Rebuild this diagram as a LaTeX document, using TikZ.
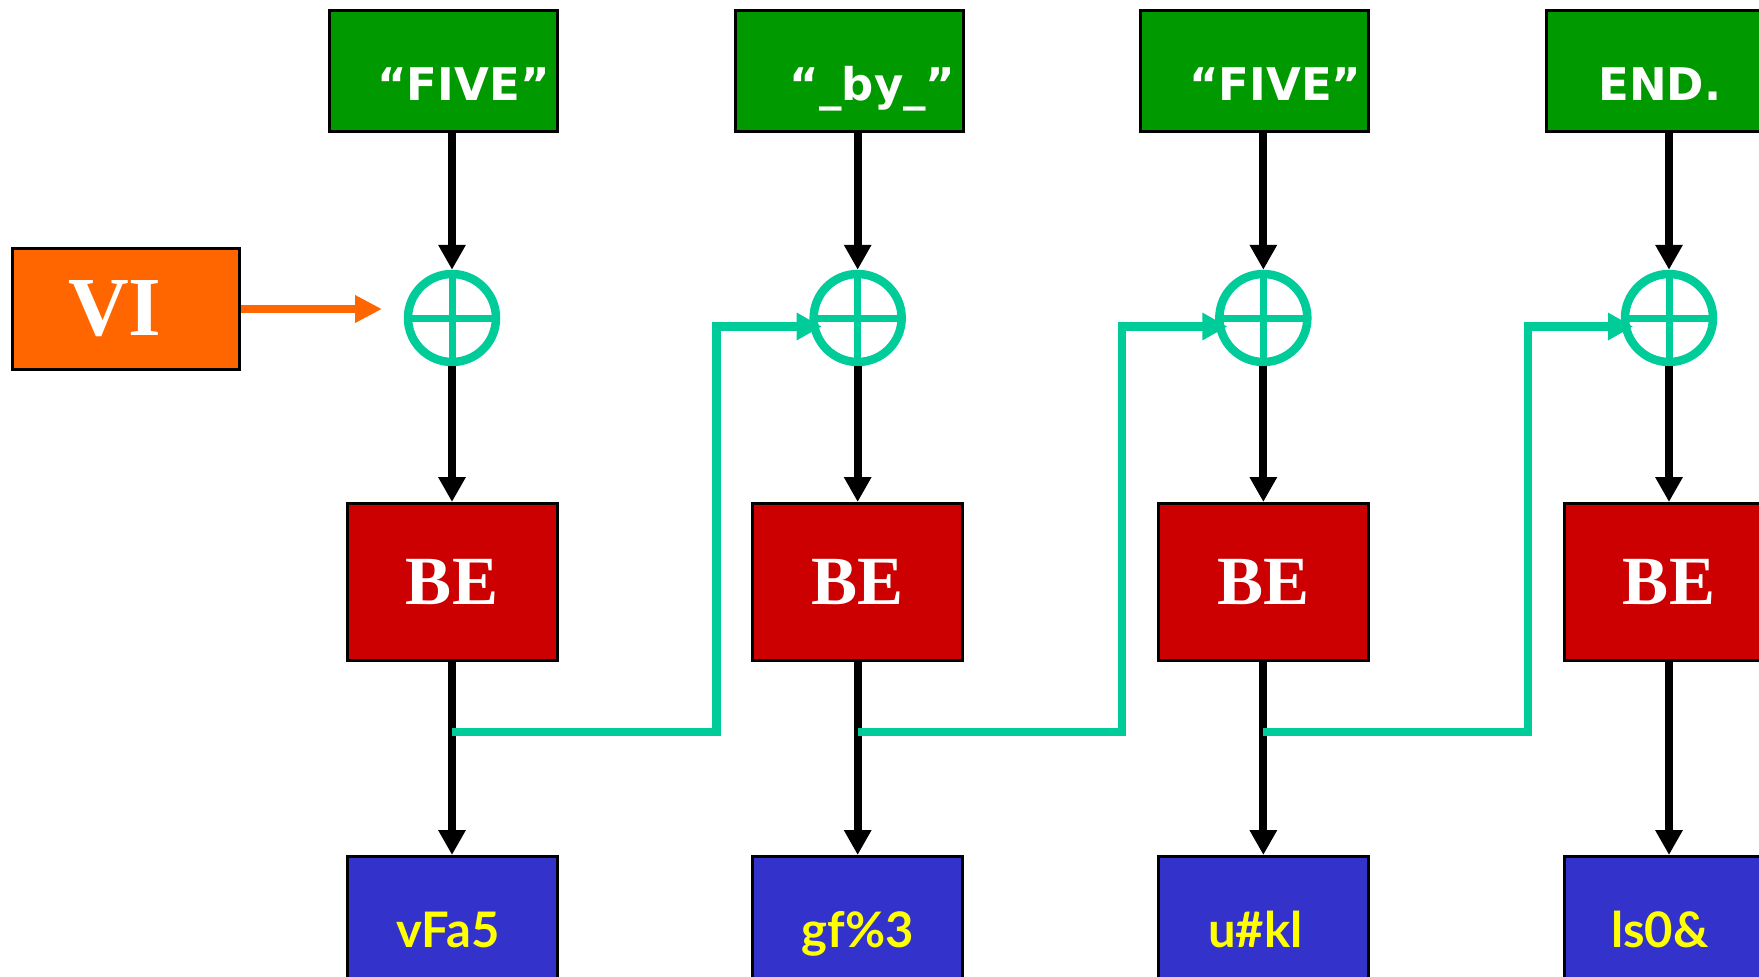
\documentclass[tikz,border=0pt]{standalone}
\usepackage{fontspec}
\usetikzlibrary{arrows.meta,calc}

\newfontfamily\keyfont{DejaVu Sans}
\newfontfamily\romanfont{Liberation Serif}
\newfontfamily\cipherfont{Lato}

\definecolor{keygreen}{HTML}{009900}
\definecolor{ivorange}{HTML}{FF6600}
\definecolor{bered}{HTML}{CC0000}
\definecolor{outblue}{HTML}{3333CC}
\definecolor{xorteal}{HTML}{00CC99}
\definecolor{cipheryellow}{HTML}{FFFF00}

\begin{document}
\begin{tikzpicture}[x=1pt,y=-1pt,
  boxframe/.style={draw=black, line width=3pt, inner sep=0pt},
  inbox/.style={boxframe, fill=keygreen, minimum width=228pt, minimum height=121pt},
  intext/.style={inner sep=0pt, text=white, font=\keyfont\bfseries\fontsize{45}{54}\selectfont},
  ivbox/.style={boxframe, fill=ivorange, minimum width=227pt, minimum height=121pt,
    text=white, font=\romanfont\bfseries\fontsize{84}{96}\selectfont},
  bebox/.style={boxframe, fill=bered, minimum width=210pt, minimum height=157pt,
    text=white, font=\romanfont\bfseries\fontsize{69}{80}\selectfont},
  outbox/.style={boxframe, fill=outblue, minimum width=210pt, minimum height=157pt},
  outtext/.style={inner sep=0pt, text=cipheryellow, font=\cipherfont\bfseries\fontsize{49}{58}\selectfont},
  xorring/.style={circle, draw=xorteal, line width=8.5pt, minimum size=88pt, inner sep=0pt,
    path picture={\draw[xorteal, line width=7pt]
      (path picture bounding box.north) -- (path picture bounding box.south)
      (path picture bounding box.west) -- (path picture bounding box.east);}},
  blk/.style={draw=black, line width=8pt, -{Triangle[length=25pt,width=26pt]}},
  chain/.style={draw=xorteal, line width=8.5pt, line join=miter, -{Triangle[length=25pt,width=26pt]}},
  ivarrow/.style={draw=ivorange, line width=8.5pt, -{Triangle[length=27pt,width=26pt]}}
]
\useasboundingbox (0,0) rectangle (1759,977);
\clip (0,0) rectangle (1759,977);
\fill[white] (0,0) rectangle (1759,977);

% initialisation vector
\node[ivbox] (vi) at (126,309) {VI\hspace*{22pt}};

% one column per block: plaintext, XOR, block encryption, ciphertext
\foreach \i/\word/\dx/\out/\ox in {1/{“FIVE”}/11.5/{vFa5}/-4,
                                    2/{“\_by\_”}/15/{gf\%3}/0,
                                    3/{“FIVE”}/12/{u\#kl}/-8,
                                    4/{END.}/-9/{ls0\&}/-9} {
  \pgfmathsetmacro\ax{452+(\i-1)*405.667}
  \node[inbox] (g\i) at (\ax-8.5,71) {};
  \node[intext, anchor=base] (gt\i) at (\ax+\dx,100) {\word};
  \node[xorring] (x\i) at (\ax,318) {};
  \node[bebox] (b\i) at (\ax,582) {BE};
  \node[outbox] (o\i) at (\ax,935) {};
  \node[outtext, anchor=base] (ot\i) at (\ax+\ox,947) {\out};
  \draw[blk] (g\i.south -| x\i.north) -- (x\i.north);
  \draw[blk] (x\i.south) -- (b\i.north);
  \draw[blk] (b\i.south) -- (o\i.north);
}

% IV into the first XOR
\path (x1.center) ++(-70,-9) coordinate (ve);
\draw[ivarrow] (vi.east) -- (ve);

% ciphertext feedback into the next XOR
\foreach \i/\j in {1/2,2/3,3/4} {
  \path (x\i.center) ++(0,414) coordinate (t\i);
  \path (x\j.center) ++(-36,8.5) coordinate (e\j);
  \draw[chain] (t\i) -- ++(264.5,0) |- (e\j);
}
\end{tikzpicture}
\end{document}
